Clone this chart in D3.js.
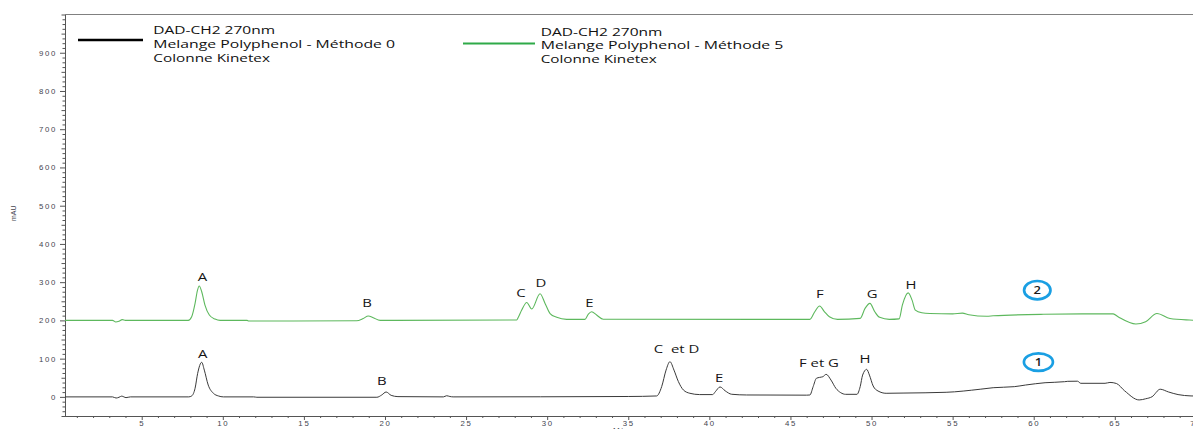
<!DOCTYPE html>
<html>
<head>
<meta charset="utf-8">
<script src="https://cdn.jsdelivr.net/npm/d3@7"></script>
<style>
  html, body { margin: 0; padding: 0; background: #fff; }
  svg { display: block; }
  .tick text { font-family: "Liberation Sans", Arial, sans-serif; font-size: 7.8px; fill: #44444f; letter-spacing: 1.7px; }
  .tick line { stroke: #555; }
  .domain { stroke: #555; }
</style>
</head>
<body>
<svg id="chart" width="1193" height="429"></svg>
<script>
// Retention time (min) and absorbance (mAU), method 0 trace
const time0 = [0.27, 3.2, 3.42, 3.6, 3.77, 3.9, 4.03, 4.3, 7.9, 8.08, 8.29, 8.45, 8.7, 8.86, 9.1, 9.42, 9.73, 10.04, 11.9, 12.1, 19.5, 19.8, 20.07, 20.38, 20.8, 23.6, 23.8, 24.0, 24.2, 35.0, 36.75, 37.06, 37.33, 37.57, 37.82, 38.09, 38.4, 38.8, 39.4, 40.2, 40.37, 40.66, 40.97, 41.38, 42.3, 46.0, 46.2, 46.4, 46.6, 46.8, 47.0, 47.2, 47.5, 47.8, 48.1, 48.4, 49.1, 49.3, 49.45, 49.7, 49.87, 50.1, 50.4, 50.9, 52.0, 54.6, 56.7, 57.5, 58.8, 59.5, 60.7, 61.9, 62.1, 62.7, 62.9, 64.4, 64.7, 65.1, 65.6, 66.5, 66.9, 67.3, 67.8, 68.3, 68.9, 69.7, 70.2];
const mau0 = [0, 0, -3, -1, 2, 0, -2, 0, 0, 2.4, 22.5, 61.6, 90.4, 70, 31, 9.4, 2.4, 0, 0, -1, -1, 5, 12.8, 4, 0.7, 0, 3, 1, 0, 1, 2.4, 26.7, 70, 92, 70, 40, 18, 9.4, 6, 6, 13.6, 26, 16, 6.8, 5, 4.5, 5, 26.7, 48.6, 51, 52.8, 59, 44, 22.5, 11, 6.7, 6.7, 26.7, 57, 72, 57, 28.5, 15.4, 9.4, 10, 12, 20, 24, 26.7, 31, 37, 39.7, 40.7, 41, 35.5, 35.5, 37.8, 35, 16, -8, -5, 0.5, 20, 13, 6, 2.5, 2];

// Retention time (min) and absorbance (mAU), method 5 trace (offset +200)
const time5 = [0.27, 3.2, 3.4, 3.6, 3.8, 4.0, 7.87, 8.08, 8.29, 8.43, 8.55, 8.7, 8.9, 9.17, 9.52, 9.83, 11.5, 11.6, 18.25, 18.66, 18.97, 19.28, 19.7, 20.6, 28.12, 28.22, 28.43, 28.74, 29.05, 29.56, 29.87, 30.18, 30.59, 31.2, 32.33, 32.54, 32.74, 33.05, 33.46, 46.2, 46.5, 46.8, 47.1, 47.4, 47.9, 49.3, 49.6, 49.9, 50.2, 50.5, 51.1, 51.7, 51.9, 52.26, 52.5, 52.7, 53.1, 53.6, 55.0, 55.6, 56.0, 57.1, 57.5, 60.6, 63.0, 64.9, 65.2, 66.3, 66.9, 67.6, 68.4, 69.6, 70.2];
const mau5 = [200, 200, 196, 198, 202, 200, 200, 209.5, 244.5, 277.4, 290, 275, 240, 214, 203.5, 200, 200, 198.3, 199, 205, 211.5, 207, 200, 200, 201, 208, 227, 247, 230, 269.7, 244.5, 218, 208, 202.7, 202.7, 216.5, 222.6, 214, 203, 202.7, 222.6, 237.5, 222.6, 209.5, 202.7, 205.4, 231.5, 244.5, 222.6, 208, 202.7, 204, 240, 272, 253, 227, 220, 218, 217, 219, 215, 211, 212, 216, 217, 217, 209.5, 190.5, 196.5, 218, 205, 201, 200];

// Peak annotations (text, anchor time, anchor mAU)
const peakText5 = ["A", "B", "C", "D", "E", "F", "G", "H"];
const peakTime5 = [8.74, 18.89, 28.38, 29.62, 32.60, 46.82, 50.04, 52.43];
const peakMau5 = [314, 244.5, 270.6, 296.8, 246, 268.8, 268.8, 292.3];
const peakText0 = ["A", "B", "C  et D", "E", "F et G", "H"];
const peakTime0 = [8.76, 19.80, 37.98, 40.61, 46.76, 49.59];
const peakMau0 = [111.3, 41.5, 125, 48.6, 87.8, 98.2];

// Trace number markers
const markerText = ["1", "2"];
const markerTime = [60.29, 60.22];
const markerMau = [91, 279];

// Legend entries
const legend0 = ["DAD-CH2 270nm", "Melange Polyphenol - Méthode 0", "Colonne Kinetex"];
const legend5 = ["DAD-CH2 270nm", "Melange Polyphenol - Méthode 5", "Colonne Kinetex"];

// Axis ticks
const yMajor = [0, 100, 200, 300, 400, 500, 600, 700, 800, 900];
const xMajor = [5, 10, 15, 20, 25, 30, 35, 40, 45, 50, 55, 60, 65, 70];
const xTitle = "Min";
const yTitle = "mAU";

const svg = d3.select("#chart");
const W = 1193, H = 429;

const x = d3.scaleLinear().domain([0.27, 70]).range([65, 1195.9]);
const y = d3.scaleLinear().domain([-50, 1000]).range([416, 14.5]);

// top frame line
svg.append("line")
  .attr("x1", x(0.27)).attr("x2", W)
  .attr("y1", y(1000)).attr("y2", y(1000))
  .attr("stroke", "#808080").attr("stroke-width", 1);

// y axis: minor, mid and major ticks
const yMinorVals = d3.range(-50, 1000.01, 12.5).filter(v => v % 50 !== 0);
const yMidVals = d3.range(-50, 1000.01, 50).filter(v => v % 100 !== 0);
svg.append("g").attr("transform", `translate(${x(0.27)},0)`)
  .call(d3.axisLeft(y).tickValues(yMinorVals).tickSize(2.5).tickSizeOuter(0).tickFormat(""));
svg.append("g").attr("transform", `translate(${x(0.27)},0)`)
  .call(d3.axisLeft(y).tickValues(yMidVals.concat([1000])).tickSize(3.5).tickSizeOuter(0).tickFormat(""));
svg.append("g").attr("transform", `translate(${x(0.27)},0)`)
  .call(d3.axisLeft(y).tickValues(yMajor).tickSize(5).tickPadding(3).tickSizeOuter(0).tickFormat(d3.format("d")));

// x axis: minor and major ticks
const xMinorVals = d3.range(1, 71, 1).filter(v => v % 5 !== 0);
svg.append("g").attr("transform", `translate(0,${y(-50)})`)
  .call(d3.axisBottom(x).tickValues(xMinorVals).tickSize(2).tickSizeOuter(0).tickFormat(""));
svg.append("g").attr("transform", `translate(0,${y(-50)})`)
  .call(d3.axisBottom(x).tickValues(xMajor).tickSize(4).tickPadding(0).tickSizeOuter(0).tickFormat(d3.format("d")));

svg.selectAll(".domain").attr("stroke", "#555");

// axis titles
svg.append("text")
  .attr("transform", `translate(16,${y(480)}) rotate(-90)`)
  .attr("text-anchor", "middle")
  .attr("font-family", "Liberation Sans, Arial, sans-serif")
  .attr("font-size", 7).attr("fill", "#44444f")
  .text(yTitle);
svg.append("text")
  .attr("x", x(34.6)).attr("y", 432.5)
  .attr("text-anchor", "middle")
  .attr("font-family", "Liberation Sans, Arial, sans-serif")
  .attr("font-size", 8).attr("fill", "#44444f").attr("letter-spacing", 1.5)
  .text(xTitle);

// traces
const line = d3.line().x(d => x(d[0])).y(d => y(d[1])).curve(d3.curveMonotoneX);
const trace0 = time0.map((t, i) => [t, mau0[i]]);
const trace5 = time5.map((t, i) => [t, mau5[i]]);

const plot = svg.append("g");
plot.append("path").datum(trace5)
  .attr("d", line).attr("fill", "none")
  .attr("stroke", "#5db85d").attr("stroke-width", 1.1);
plot.append("path").datum(trace0)
  .attr("d", line).attr("fill", "none")
  .attr("stroke", "#3a3a3a").attr("stroke-width", 1);

// peak letters (lettering is drawn wide, stretched horizontally)
function peakLabels(texts, times, values) {
  texts.forEach((t, i) => {
    svg.append("text")
      .attr("transform", `translate(${x(times[i])},${y(values[i])}) scale(1.38,1)`)
      .attr("text-anchor", "middle")
      .attr("dy", "0.36em")
      .attr("font-family", "Open Sans, sans-serif")
      .attr("font-size", 10.8)
      .attr("fill", "#151515")
      .style("white-space", "pre")
      .text(t);
  });
}
peakLabels(peakText5, peakTime5, peakMau5);
peakLabels(peakText0, peakTime0, peakMau0);

// numbered markers
markerText.forEach((t, i) => {
  const cx = x(markerTime[i]), cy = y(markerMau[i]);
  svg.append("ellipse")
    .attr("cx", cx).attr("cy", cy)
    .attr("rx", i === 0 ? 14.5 : 13.2).attr("ry", i === 0 ? 8.8 : 9.2)
    .attr("fill", "none").attr("stroke", "#1a9fe3").attr("stroke-width", 2.7);
  svg.append("text")
    .attr("transform", `translate(${cx},${cy}) scale(1.3,1)`)
    .attr("text-anchor", "middle").attr("dy", "0.36em")
    .attr("font-family", "Open Sans, sans-serif")
    .attr("font-size", 10).attr("font-weight", 600)
    .attr("fill", "#1a1a1a")
    .text(t);
});

// legend
function legend(lines, lx1, lx2, ly, color, sw, tx, baselines, lengths) {
  svg.append("line")
    .attr("x1", lx1).attr("x2", lx2).attr("y1", ly).attr("y2", ly)
    .attr("stroke", color).attr("stroke-width", sw);
  lines.forEach((s, i) => {
    svg.append("text")
      .attr("x", tx).attr("y", baselines[i])
      .attr("font-family", "Open Sans, sans-serif")
      .attr("font-size", 11.6)
      .attr("fill", "#111")
      .attr("textLength", lengths[i])
      .attr("lengthAdjust", "spacingAndGlyphs")
      .text(s);
  });
}
legend(legend0, 78, 143, 40, "#000", 2.6, 153.3, [33.5, 47.5, 61.5], [121.7, 241.7, 116.7]);
legend(legend5, 463, 535, 43.5, "#2faa48", 2.2, 540.7, [35.8, 49.4, 62.9], [121.7, 242.7, 116]);
</script>
</body>
</html>
